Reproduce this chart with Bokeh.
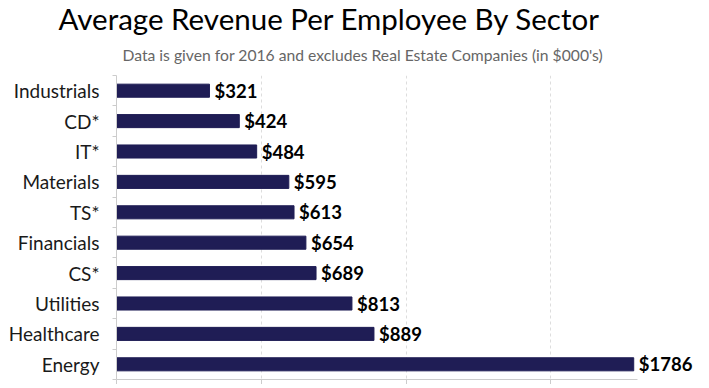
from bokeh.plotting import figure
from bokeh.models import Range1d, FixedTicker, ColumnDataSource, Title
from bokeh.core.properties import value
from bokeh.embed import file_html
from bokeh.resources import INLINE

# ---- data ----
sectors = ["Industrials", "CD*", "IT*", "Materials", "TS*",
           "Financials", "CS*", "Utilities", "Healthcare", "Energy"]
revenue = [321, 424, 484, 595, 613, 654, 689, 813, 889, 1786]
x_ticks = [0, 500, 1000, 1500]
title_text = "Average Revenue Per Employee By Sector"
subtitle_text = "Data is given for 2016 and excludes Real Estate Companies (in $000's)"

pos = list(range(len(sectors)))
labels = ["$%d" % v for v in revenue]
src = ColumnDataSource(dict(y=pos, v=revenue, lab=labels))

BAR = "#1f1d55"
FONT = "Lato"

p = figure(width=701, height=384, output_backend="svg", toolbar_location=None,
           x_range=Range1d(0, 2020), y_range=Range1d(len(sectors) - 0.5, -0.5),
           min_border_left=116, min_border_right=0, min_border_top=0, min_border_bottom=0,
           outline_line_color=None, background_fill_color="white",
           border_fill_color="white")

p.hbar(y="y", right="v", left=0, height=0.43, color=BAR, source=src)
p.text(x="v", y="y", text="lab", source=src, x_offset=5,
       text_font=value(FONT), text_font_style="bold", text_font_size="18.5px",
       text_baseline="middle", text_align="left", text_color="#000000")

# titles
p.add_layout(Title(text=subtitle_text, align="left", offset=6, vertical_align="top",
                   text_font=FONT, text_font_size="15.7px", text_font_style="normal",
                   text_color="#666666", standoff=17.5), "above")
p.add_layout(Title(text=title_text, align="left", offset=-58, vertical_align="top",
                   text_font=FONT, text_font_size="29.5px", text_font_style="normal",
                   text_color="#000000", standoff=0), "above")

# y axis
yax = p.yaxis[0]
yax.ticker = FixedTicker(ticks=pos, minor_ticks=[i - 0.5 for i in range(len(sectors) + 1)])
yax.major_label_overrides = {i: s for i, s in enumerate(sectors)}
yax.major_label_text_font = FONT
yax.major_label_text_font_size = "19px"
yax.major_label_text_color = "#1a1a1a"
yax.major_label_standoff = 13
yax.major_tick_out = 0
yax.major_tick_in = 0
yax.minor_tick_out = 4
yax.minor_tick_in = 0
yax.minor_tick_line_color = "#cccccc"
yax.axis_line_color = "#cccccc"

# x axis (no labels)
xax = p.xaxis[0]
xax.ticker = FixedTicker(ticks=x_ticks, minor_ticks=[])
xax.bounds = (0, 1800)
xax.major_label_overrides = {t: "" for t in x_ticks}
xax.major_label_text_font_size = "1px"
xax.major_label_standoff = 0
xax.major_tick_out = 5
xax.major_tick_in = 0
xax.major_tick_line_color = "#cccccc"
xax.axis_line_color = "#cccccc"

# grids
p.ygrid.grid_line_color = None
p.xgrid.ticker = FixedTicker(ticks=x_ticks[1:])
p.xgrid.grid_line_color = "#dddddd"
p.xgrid.grid_line_dash = "3 3"
p.xgrid.bounds = (0, 1800)

open("out.html", "w").write(file_html(p, INLINE))
